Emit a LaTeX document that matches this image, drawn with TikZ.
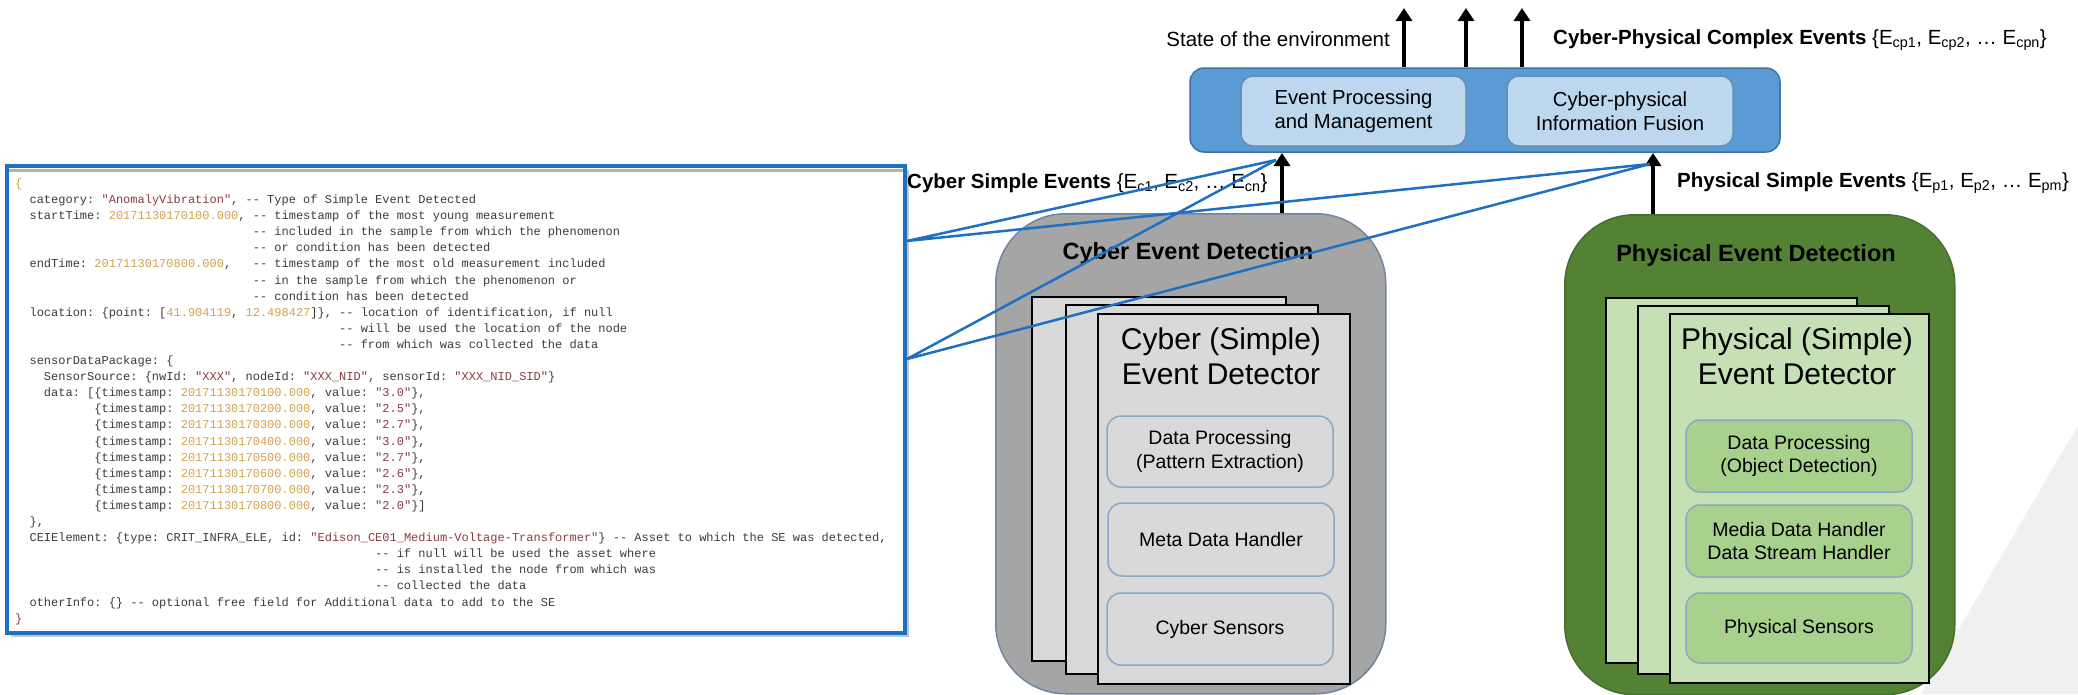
\documentclass[tikz,border=0pt]{standalone}
\usepackage{fontspec}
\setmainfont{Liberation Sans}
\setmonofont{Liberation Mono}
\usetikzlibrary{shadows, arrows.meta, positioning, calc}
\definecolor{barblue}{HTML}{5B9BD5}
\definecolor{barline}{HTML}{41719C}
\definecolor{paleblue}{HTML}{BDD7EE}
\definecolor{callblue}{HTML}{1F6FC2}
\definecolor{cybergray}{HTML}{A5A5A5}
\definecolor{pagegray}{HTML}{D9D9D9}
\definecolor{edgeblue}{HTML}{8BA7C6}
\definecolor{physgreen}{HTML}{548235}
\definecolor{pagegreen}{HTML}{C5E0B4}
\definecolor{boxgreen}{HTML}{A9D18E}
\definecolor{numgold}{HTML}{D4A24E}
\definecolor{strred}{HTML}{8E3B46}
\definecolor{codegray}{HTML}{3C3C3C}
\definecolor{wedgegray}{HTML}{F0F0F0}
\newlength\cw
\setlength\cw{7.2pt}
\newcommand\ind[1]{\hspace*{#1\cw}}
\newcommand\cnum[1]{\textcolor{numgold}{#1}}
\newcommand\cstr[1]{\textcolor{strred}{#1}}

\begin{document}
\begin{tikzpicture}[
  x=1pt, y=-1pt,
  lbl/.style={font=\fontsize{20.5}{24}\selectfont, inner sep=0},
  head/.style={font=\bfseries\fontsize{23.5}{28}\selectfont, inner sep=0},
  panel/.style={rounded corners=70pt, line width=1.5pt, anchor=north west, minimum width=390pt, minimum height=480pt},
  page/.style={draw=black, line width=1.5pt, anchor=north west, inner sep=0},
  dtitle/.style={align=center, font=\fontsize{30}{35}\selectfont, inner sep=0},
  part/.style={draw=edgeblue, rounded corners=14pt, line width=1.5pt, minimum width=226pt, align=center, font=\fontsize{19.5}{23.5}\selectfont, inner sep=0},
  inbox/.style={fill=paleblue, draw=barline!80, rounded corners=12pt, line width=1.5pt, minimum width=225pt, minimum height=70pt, align=center, font=\fontsize{20.3}{24}\selectfont},
  bigarrow/.style={line width=4.5pt, -{Triangle[length=13pt, width=16pt]}},
  callout/.style={draw=callblue, line width=2.5pt, line join=round}
]
\fill[white] (0,0) rectangle (2078,694);
\useasboundingbox (0,0) rectangle (2078,694);
\fill[wedgegray] (2078,425) -- (1921,694) -- (2078,694) -- cycle;

\node[draw=callblue, line width=4pt, fill=white, anchor=north west, minimum width=898pt, minimum height=467pt,
  drop shadow={shadow xshift=4pt, shadow yshift=-4pt, fill=black!45}] (code) at (5,164) {};
\draw[black!30, line width=3pt] ($(code.north west)+(4,6)$) -- ($(code.north east)+(-4,6)$);
\node[anchor=north west, align=left, inner sep=0, text=codegray, font=\ttfamily\fontsize{12}{16.1}\selectfont] (codetxt) at (15,176) {%
\strut\textcolor{numgold}{\{}\\
\ind{2}category: \cstr{"AnomalyVibration"}, -- Type of Simple Event Detected\\
\ind{2}startTime: \cnum{20171130170100.000}, -- timestamp of the most young measurement\\
\ind{33}-- included in the sample from which the phenomenon\\
\ind{33}-- or condition has been detected\\
\ind{2}endTime: \cnum{20171130170800.000},\ind{3}-- timestamp of the most old measurement included\\
\ind{33}-- in the sample from which the phenomenon or\\
\ind{33}-- condition has been detected\\
\ind{2}location: \{point: [\cnum{41.904119}, \cnum{12.498427}]\}, -- location of identification, if null\\
\ind{45}-- will be used the location of the node\\
\ind{45}-- from which was collected the data\\
\ind{2}sensorDataPackage: \{\\
\ind{4}SensorSource: \{nwId: \cstr{"XXX"}, nodeId: \cstr{"XXX\_NID"}, sensorId: \cstr{"XXX\_NID\_SID"}\}\\
\ind{4}data: [\{timestamp: \cnum{20171130170100.000}, value: \cstr{"3.0"}\},\\
\ind{11}\{timestamp: \cnum{20171130170200.000}, value: \cstr{"2.5"}\},\\
\ind{11}\{timestamp: \cnum{20171130170300.000}, value: \cstr{"2.7"}\},\\
\ind{11}\{timestamp: \cnum{20171130170400.000}, value: \cstr{"3.0"}\},\\
\ind{11}\{timestamp: \cnum{20171130170500.000}, value: \cstr{"2.7"}\},\\
\ind{11}\{timestamp: \cnum{20171130170600.000}, value: \cstr{"2.6"}\},\\
\ind{11}\{timestamp: \cnum{20171130170700.000}, value: \cstr{"2.3"}\},\\
\ind{11}\{timestamp: \cnum{20171130170800.000}, value: \cstr{"2.0"}\}]\\
\ind{2}\},\\
\ind{2}CEIElement: \{type: CRIT\_INFRA\_ELE, id: \cstr{"Edison\_CE01\_Medium-Voltage-Transformer"}\} -- Asset to which the SE was detected,\\
\ind{50}-- if null will be used the asset where\\
\ind{50}-- is installed the node from which was\\
\ind{50}-- collected the data\\
\ind{2}otherInfo: \{\} -- optional free field for Additional data to add to the SE\\
\textcolor{strred}{\}}};

\node[draw=barline, fill=barblue, rounded corners=14pt, line width=1.5pt, minimum width=590pt, minimum height=84pt] (topbar) at (1485,110) {};
\node[inbox] (evproc) at (1353.5,111) {Event Processing\\and Management};
\node[inbox, minimum width=226pt] (cpfusion) at (1620,111) {Cyber-physical\\Information Fusion};

\coordinate (o1) at (1404,8);
\coordinate (o2) at (1466,8);
\coordinate (o3) at (1522,8);
\foreach \o in {o1,o2,o3}
  \draw[bigarrow] (topbar.north -| \o) -- (\o);
\node[lbl, anchor=east] (envstate) at (1390,39) {State of the environment};
\node[lbl, anchor=west] (cpce) at (1553,40) {\textbf{Cyber-Physical Complex Events} \{E\textsubscript{cp1}, E\textsubscript{cp2}, \ldots{} E\textsubscript{cpn}\}};

\node[panel, draw=edgeblue!80!black, fill=cybergray] (cyberdet) at (995,213) {};
\node[head] (cyhead) at (1188,253) {Cyber Event Detection};
\node[page, fill=pagegray, minimum width=254pt, minimum height=364pt] (cpg1) at (1031,296) {};
\node[page, fill=pagegray, minimum width=252pt, minimum height=369pt] (cpg2) at (1065,304) {};
\node[page, fill=pagegray, minimum width=252pt, minimum height=370pt] (cpg3) at (1097,313) {};
\node[dtitle] (cytitle) at (1221,356) {Cyber (Simple)\\Event Detector};
\node[part, fill=pagegray, minimum height=71pt] (cproc) at (1220,451.5) {Data Processing\\(Pattern Extraction)};
\node[part, fill=pagegray, minimum height=73pt] (cmeta) at (1221,539.5) {Meta Data Handler};
\node[part, fill=pagegray, minimum height=72pt] (csens) at (1220,629) {Cyber Sensors};

\node[panel, draw=physgreen!85!black, fill=physgreen] (physdet) at (1564,214) {};
\node[head] (phhead) at (1756,255) {Physical Event Detection};
\node[page, fill=pagegreen, minimum width=251pt, minimum height=365pt] (ppg1) at (1605,297) {};
\node[page, fill=pagegreen, minimum width=251pt, minimum height=368pt] (ppg2) at (1637,305) {};
\node[page, fill=pagegreen, minimum width=259pt, minimum height=369pt] (ppg3) at (1669,313) {};
\node[dtitle] (phtitle) at (1797,356) {Physical (Simple)\\Event Detector};
\node[part, fill=boxgreen, minimum height=72pt] (pproc) at (1799,456) {Data Processing\\(Object Detection)};
\node[part, fill=boxgreen, minimum height=72pt] (pmedia) at (1799,541) {Media Data Handler\\Data Stream Handler};
\node[part, fill=boxgreen, minimum height=70pt] (psens) at (1799,628) {Physical Sensors};

\coordinate (cin) at (1282,153);
\coordinate (pin) at (1653,153);
\draw[bigarrow] (cyberdet.north -| cin) -- (cin);
\draw[bigarrow] (physdet.north -| pin) -- (pin);
\node[lbl, anchor=west] (cse) at (907,183) {\textbf{Cyber Simple Events} \{E\textsubscript{c1}, E\textsubscript{c2}, \ldots{} E\textsubscript{cn}\}};
\node[lbl, anchor=west] (pse) at (1677,183) {\textbf{Physical Simple Events} \{E\textsubscript{p1}, E\textsubscript{p2}, \ldots{} E\textsubscript{pm}\}};

\coordinate (ctop) at ($(code.north east)+(0,77)$);
\coordinate (cbot) at ($(code.north east)+(0,195)$);
\coordinate (chit) at (1276,160);
\coordinate (phit) at (1650,164);
\draw[callout] (chit) -- (ctop) -- (phit);
\draw[callout] (chit) -- (cbot) -- (phit);
\end{tikzpicture}
\end{document}
